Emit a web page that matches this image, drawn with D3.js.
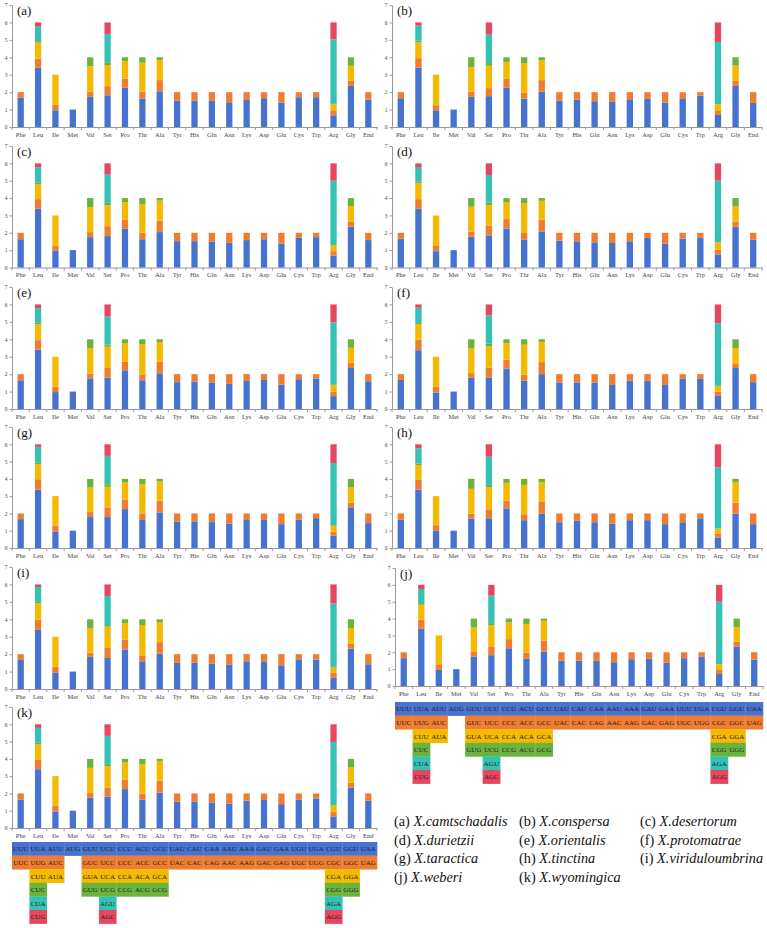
<!DOCTYPE html>
<html>
<head>
<meta charset="utf-8">
<script src="https://cdn.jsdelivr.net/npm/d3@7"></script>
<style>
  body { margin: 0; background: #fff; }
  svg { display: block; }
  svg text { font-family: "Liberation Serif", "Times New Roman", Times, serif; }
</style>
</head>
<body>
<div id="chart"></div>
<script>
const aminoAcids = ["Phe","Leu","Ile","Met","Val","Ser","Pro","Thr","Ala","Tyr","His","Gln","Asn","Lys","Asp","Glu","Cys","Trp","Arg","Gly","End"];
const codons = [
  ["UUU","UUC"], ["UUA","UUG","CUU","CUC","CUA","CUG"], ["AUU","AUC","AUA"], ["AUG"],
  ["GUU","GUC","GUA","GUG"], ["UCU","UCC","UCA","UCG","AGU","AGC"], ["CCU","CCC","CCA","CCG"],
  ["ACU","ACC","ACA","ACG"], ["GCU","GCC","GCA","GCG"], ["UAU","UAC"], ["CAU","CAC"],
  ["CAA","CAG"], ["AAU","AAC"], ["AAA","AAG"], ["GAU","GAC"], ["GAA","GAG"], ["UGU","UGC"],
  ["UGA","UGG"], ["CGU","CGC","CGA","CGG","AGA","AGG"], ["GGU","GGC","GGA","GGG"], ["UAA","UAG"]
];
const yTicks = [0, 1, 2, 3, 4, 5, 6, 7];
const codonColors = ["#4673CF", "#EE7D31", "#F5BA00", "#6BB33F", "#33C2B3", "#E6475F"];
const panelLabels = ["(a)","(b)","(c)","(d)","(e)","(f)","(g)","(h)","(i)","(j)","(k)"];
const species = ["X.camtschadalis","X.conspersa","X.desertorum","X.durietzii","X.orientalis",
  "X.protomatrae","X.taractica","X.tinctina","X.viriduloumbrina","X.weberi","X.wyomingica"];

// RSCU per amino acid, codons in the order of `codons`
const rscuA = [[1.68,0.32],[3.40,0.52,0.92,0.09,0.83,0.24],[0.96,0.33,1.71],[1],[1.73,0.29,1.47,0.51],
  [1.82,0.52,1.21,0.17,1.62,0.66],[2.25,0.53,1.00,0.22],[1.63,0.39,1.67,0.31],[2.05,0.64,1.15,0.16],
  [1.52,0.48],[1.52,0.48],[1.50,0.50],[1.42,0.58],[1.59,0.41],[1.65,0.35],[1.40,0.60],[1.71,0.29],
  [1.71,0.29],[0.67,0.29,0.35,0.02,3.70,0.97],[2.36,0.29,0.86,0.49],[1.57,0.43]];
const rscuB = [[1.65,0.35],[3.40,0.55,0.91,0.09,0.87,0.18],[0.96,0.29,1.75],[1],[1.73,0.30,1.41,0.56],
  [1.77,0.46,1.28,0.16,1.63,0.70],[2.25,0.51,0.96,0.28],[1.63,0.33,1.69,0.35],[2.02,0.67,1.15,0.16],
  [1.52,0.48],[1.57,0.43],[1.48,0.52],[1.44,0.56],[1.59,0.41],[1.61,0.39],[1.40,0.60],[1.61,0.39],
  [1.79,0.21],[0.69,0.23,0.39,0.00,3.57,1.12],[2.36,0.29,0.88,0.47],[1.38,0.62]];
const rscuC = [[1.63,0.37],[3.38,0.56,0.87,0.09,0.87,0.23],[0.96,0.31,1.73],[1],[1.75,0.29,1.44,0.52],
  [1.81,0.57,1.20,0.15,1.62,0.65],[2.25,0.52,1.00,0.23],[1.63,0.37,1.65,0.35],[2.04,0.65,1.16,0.15],
  [1.52,0.48],[1.52,0.48],[1.48,0.52],[1.42,0.58],[1.58,0.42],[1.63,0.37],[1.37,0.63],[1.71,0.29],
  [1.75,0.25],[0.69,0.25,0.35,0.00,3.71,1.00],[2.35,0.28,0.91,0.46],[1.58,0.42]];
const rscuD = [[1.66,0.34],[3.38,0.56,0.92,0.09,0.84,0.21],[0.94,0.34,1.72],[1],[1.78,0.28,1.44,0.50],
  [1.85,0.56,1.18,0.16,1.58,0.67],[2.24,0.55,0.98,0.23],[1.61,0.38,1.72,0.29],[2.08,0.67,1.09,0.16],
  [1.55,0.45],[1.51,0.49],[1.45,0.55],[1.41,0.59],[1.51,0.49],[1.70,0.30],[1.38,0.62],[1.66,0.34],
  [1.70,0.30],[0.75,0.28,0.42,0.00,3.56,0.99],[2.35,0.29,0.88,0.48],[1.61,0.39]];
const rscuE = [[1.65,0.35],[3.40,0.55,0.91,0.09,0.84,0.21],[0.97,0.30,1.73],[1],[1.76,0.27,1.46,0.51],
  [1.80,0.55,1.22,0.13,1.61,0.69],[2.22,0.49,1.05,0.24],[1.65,0.34,1.71,0.30],[2.05,0.66,1.14,0.15],
  [1.54,0.46],[1.57,0.43],[1.50,0.50],[1.44,0.56],[1.61,0.39],[1.67,0.33],[1.39,0.61],[1.71,0.29],
  [1.75,0.25],[0.74,0.25,0.40,0.00,3.58,1.03],[2.35,0.31,0.85,0.49],[1.59,0.41]];
const rscuF = [[1.67,0.33],[3.37,0.61,0.87,0.09,0.87,0.19],[0.94,0.33,1.73],[1],[1.79,0.27,1.42,0.52],
  [1.81,0.57,1.22,0.15,1.62,0.63],[2.31,0.52,0.96,0.21],[1.62,0.34,1.73,0.31],[2.00,0.69,1.16,0.15],
  [1.52,0.48],[1.52,0.48],[1.52,0.48],[1.38,0.62],[1.62,0.38],[1.62,0.38],[1.38,0.62],[1.73,0.27],
  [1.73,0.27],[0.75,0.25,0.33,0.00,3.59,1.08],[2.35,0.23,0.92,0.50],[1.54,0.46]];
const rscuG = [[1.67,0.33],[3.37,0.61,0.87,0.11,0.89,0.15],[0.96,0.33,1.71],[1],[1.79,0.29,1.42,0.50],
  [1.79,0.56,1.19,0.15,1.64,0.67],[2.25,0.56,0.98,0.21],[1.62,0.38,1.69,0.31],[2.06,0.67,1.12,0.15],
  [1.52,0.48],[1.54,0.46],[1.50,0.50],[1.42,0.58],[1.62,0.38],[1.62,0.38],[1.38,0.62],[1.65,0.35],
  [1.73,0.27],[0.71,0.23,0.35,0.00,3.63,1.08],[2.35,0.28,0.87,0.50],[1.44,0.56]];
const rscuH = [[1.63,0.37],[3.38,0.56,0.86,0.09,0.88,0.23],[0.99,0.33,1.68],[1],[1.70,0.29,1.43,0.58],
  [1.72,0.52,1.26,0.15,1.63,0.72],[2.29,0.44,1.04,0.23],[1.61,0.34,1.70,0.35],[1.99,0.67,1.13,0.21],
  [1.49,0.51],[1.57,0.43],[1.49,0.51],[1.40,0.60],[1.61,0.39],[1.61,0.39],[1.38,0.62],[1.49,0.51],
  [1.72,0.28],[0.61,0.23,0.29,0.00,3.54,1.33],[1.99,0.63,1.20,0.18],[1.38,0.62]];
const rscuI = [[1.67,0.33],[3.39,0.59,0.93,0.09,0.85,0.15],[0.95,0.32,1.73],[1],[1.84,0.24,1.42,0.50],
  [1.78,0.57,1.23,0.09,1.67,0.66],[2.27,0.57,0.95,0.21],[1.59,0.34,1.74,0.33],[2.03,0.66,1.14,0.17],
  [1.50,0.50],[1.52,0.48],[1.46,0.54],[1.40,0.60],[1.59,0.41],[1.59,0.41],[1.36,0.64],[1.70,0.30],
  [1.69,0.31],[0.64,0.29,0.30,0.04,3.64,1.09],[2.31,0.28,0.91,0.50],[1.42,0.58]];
const rscuJ = [[1.65,0.35],[3.39,0.54,0.89,0.10,0.83,0.25],[0.95,0.34,1.71],[1],[1.75,0.27,1.45,0.53],
  [1.83,0.49,1.27,0.14,1.63,0.64],[2.24,0.54,0.99,0.23],[1.61,0.37,1.69,0.33],[2.04,0.66,1.17,0.13],
  [1.51,0.49],[1.51,0.49],[1.49,0.51],[1.41,0.59],[1.59,0.41],[1.63,0.37],[1.39,0.61],[1.65,0.35],
  [1.73,0.27],[0.71,0.24,0.34,0.00,3.71,1.00],[2.34,0.28,0.87,0.51],[1.57,0.43]];
const rscuK = [[1.65,0.35],[3.40,0.54,0.89,0.11,0.85,0.21],[0.96,0.33,1.71],[1],[1.75,0.27,1.46,0.52],
  [1.81,0.52,1.23,0.15,1.62,0.67],[2.25,0.54,1.00,0.21],[1.63,0.35,1.71,0.31],[2.04,0.69,1.15,0.12],
  [1.52,0.48],[1.52,0.48],[1.48,0.52],[1.42,0.58],[1.58,0.42],[1.62,0.38],[1.38,0.62],[1.65,0.35],
  [1.71,0.29],[0.67,0.27,0.39,0.00,3.65,1.02],[2.33,0.30,0.87,0.50],[1.58,0.42]];
const panelValues = [rscuA, rscuB, rscuC, rscuD, rscuE, rscuF, rscuG, rscuH, rscuI, rscuJ, rscuK];

// layout of the panels (pixels)
const rowTops = [5, 146, 287, 427, 567, 707];
const rowBottoms = [127, 267.5, 409, 548, 689, 828];
const colX = [[12, 377], [392, 762]];
function panelBox(i) {
  if (i === 9) return { x0: 395, x1: 763, top: 568, bottom: 686, table: 702 };
  const r = Math.floor(i / 2), c = i % 2;
  return { x0: colX[c][0], x1: colX[c][1], top: rowTops[r], bottom: rowBottoms[r], table: i === 10 ? 842 : null };
}

const width = 767, height = 928;
const svg = d3.select("#chart").append("svg").attr("width", width).attr("height", height);

function drawPanel(i) {
  const box = panelBox(i);
  const values = panelValues[i];
  const g = svg.append("g");
  const x = d3.scaleBand().domain(aminoAcids).range([box.x0, box.x1]);
  const y = d3.scaleLinear().domain([0, 7]).range([box.bottom, box.top]);
  const bw = x.bandwidth();

  // y axis
  const ya = g.append("g").attr("transform", `translate(${box.x0},0)`)
    .call(d3.axisLeft(y).tickValues(yTicks).tickFormat(d3.format("d")).tickSize(2.5).tickSizeOuter(0).tickPadding(2));
  ya.select(".domain").attr("stroke", "#9a9a9a");
  ya.selectAll(".tick line").attr("stroke", "#9a9a9a");
  ya.selectAll("text").attr("font-size", 5.5).attr("fill", "#444").attr("font-family", null);

  // x axis
  const xa = g.append("g").attr("transform", `translate(0,${box.bottom})`)
    .call(d3.axisBottom(x).tickSize(0).tickPadding(5));
  xa.select(".domain").attr("stroke", "#9a9a9a");
  xa.selectAll("text").attr("font-size", 6.5).attr("fill", "#444").attr("font-family", null);
  const edges = aminoAcids.map(a => x(a)).concat([box.x1]);
  g.selectAll(".xtick").data(edges).enter().append("line")
    .attr("x1", d => d).attr("x2", d => d)
    .attr("y1", box.bottom).attr("y2", box.bottom + 3)
    .attr("stroke", "#9a9a9a");

  // stacked bars
  const segs = [];
  aminoAcids.forEach((aa, k) => {
    let acc = 0;
    values[k].forEach((v, j) => {
      segs.push({ aa, j, y0: acc, y1: acc + v });
      acc += v;
    });
  });
  g.selectAll(".seg").data(segs.filter(d => d.y1 > d.y0)).enter().append("rect")
    .attr("x", d => x(d.aa) + bw * 0.32)
    .attr("width", bw * 0.36)
    .attr("y", d => y(d.y1))
    .attr("height", d => y(d.y0) - y(d.y1))
    .attr("fill", d => codonColors[d.j]);

  g.append("text").attr("x", box.x0 + 5).attr("y", box.top + 10)
    .attr("font-size", 13).attr("fill", "#111").text(panelLabels[i]);

  if (box.table != null) drawTable(g, x, box.table);
}

function drawTable(g, x, top) {
  const rowH = 13.6;
  const cells = [];
  aminoAcids.forEach((aa, k) => codons[k].forEach((c, j) => cells.push({ aa, j, c })));
  const cg = g.selectAll(".cell").data(cells).enter().append("g");
  cg.append("rect")
    .attr("x", d => x(d.aa)).attr("width", x.bandwidth() + 0.3)
    .attr("y", d => top + d.j * rowH).attr("height", rowH + 0.3)
    .attr("fill", d => codonColors[d.j]);
  cg.append("text")
    .attr("x", d => x(d.aa) + x.bandwidth() / 2)
    .attr("y", d => top + d.j * rowH + rowH / 2 + 2.5)
    .attr("text-anchor", "middle").attr("font-size", 7).attr("fill", "#222")
    .text(d => d.c);
}

d3.range(11).forEach(drawPanel);

// species key
const keyCols = [394, 519, 640];
const keyRows = [826, 844.5, 863, 881.5];
species.forEach((s, i) => {
  const t = svg.append("text")
    .attr("x", keyCols[i % 3]).attr("y", keyRows[Math.floor(i / 3)])
    .attr("font-size", 14.3).attr("fill", "#111");
  t.append("tspan").text(panelLabels[i] + " ");
  t.append("tspan").attr("font-style", "italic").text(s);
});
</script>
</body>
</html>
